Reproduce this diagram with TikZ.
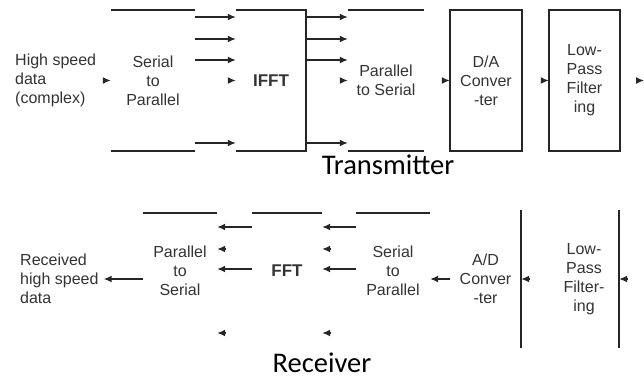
\documentclass[tikz,border=0pt]{standalone}
\usepackage{fontspec}
\setmainfont{Liberation Sans}
\newfontfamily\titlefont{Carlito}
\usetikzlibrary{arrows.meta}

\begin{document}
\begin{tikzpicture}[
  x=1pt, y=-1pt,
  blk/.style={align=center, inner sep=0pt, text=black!80,
  font=\fontsize{16}{19}\selectfont},
  txbox/.style={blk, minimum height=141pt},
  rxbox/.style={blk, minimum height=116pt},
  endbox/.style={blk, minimum height=138pt},
  bold/.style={font=\bfseries\fontsize{17}{19}\selectfont},
  edge/.style={line width=1.8pt, draw=black!85},
  arrow/.style={-{Latex[length=8pt,width=7pt]}, line width=1.4pt, draw=black!85},
  title/.style={font=\titlefont\fontsize{28.5}{30}\selectfont}
]
\useasboundingbox (0,0) rectangle (644,379);

% transmitter
\node[blk, align=left, anchor=west] (datain) at (15,80) {High speed\\data\\(complex)};
\node[txbox, minimum width=84pt] (sp1) at (153,80.5) {Serial\\to\\Parallel};
\node[txbox, bold, minimum width=70pt] (ifft) at (271,80.5) {IFFT};
\node[txbox, minimum width=76pt] (ps1) at (386,80.5) {Parallel\\to Serial};
\node[txbox, minimum width=72pt] (da) at (486,80.5) {D/A\\Conver\\-ter};
\node[txbox, minimum width=71pt] (lpf1) at (584.5,80.5) {Low-\\Pass\\Filter\\ing};
\coordinate (txout) at (644,80.5);
\node[title] (txlabel) at (388,165) {Transmitter};

\draw[edge] (sp1.north west) -- (sp1.north east) (sp1.south west) -- (sp1.south east);
\draw[edge] (ifft.north west) -| (ifft.south east) -- (ifft.south west);
\draw[edge] (ps1.north west) -- (ps1.north east) (ps1.south west) -- (ps1.south east);
\draw[edge] (da.north west) rectangle (da.south east);
\draw[edge] (lpf1.north west) rectangle (lpf1.south east);

\draw[arrow] ([xshift=-8pt]sp1.west) -- (sp1.west);
\foreach \y in {17,39,60,143} {
  \draw[arrow] (sp1.east |- 0,\y) -- (ifft.west |- 0,\y);
  \draw[arrow] (ifft.east |- 0,\y) -- (ps1.west |- 0,\y);
}
\draw[arrow] ([xshift=-8pt]ifft.west) -- (ifft.west);
\draw[arrow] ([xshift=-8pt]ps1.west) -- (ps1.west);
\draw[arrow] ([xshift=-8pt]da.west) -- (da.west);
\draw[arrow] ([xshift=-8pt]lpf1.west) -- (lpf1.west);
\draw[arrow] ([xshift=-8pt]txout) -- (txout);

% receiver
\node[blk, align=left, anchor=west] (dataout) at (20,279) {Received\\high speed\\data};
\node[rxbox, minimum width=74pt] (ps2) at (180,271) {Parallel\\to\\Serial};
\node[rxbox, bold, minimum width=70pt] (fft) at (287,271) {FFT};
\node[rxbox, minimum width=74pt] (sp2) at (393,271) {Serial\\to\\Parallel};
\node[endbox, minimum width=71pt] (ad) at (485.5,279) {A/D\\Conver\\-ter};
\node[endbox, minimum width=70pt] (lpf2) at (584,279) {Low-\\Pass\\Filter-\\ing};
\node[title] (rxlabel) at (322,363) {Receiver};

\draw[edge] (ps2.north west) -- (ps2.north east);
\draw[edge] (fft.north west) -- (fft.north east);
\draw[edge] (sp2.north west) -- (sp2.north east);
\draw[edge] (ad.north east) -- (ad.south east);
\draw[edge] (lpf2.north east) -- (lpf2.south east);

\draw[arrow] ([xshift=8pt]lpf2.east) -- (lpf2.east);
\draw[arrow] ([xshift=8pt]ad.east) -- (ad.east);
\draw[arrow] (ad.west) -- (sp2.east |- ad.west);
\foreach \y in {227,269} {
  \draw[arrow] (sp2.west |- 0,\y) -- (fft.east |- 0,\y);
  \draw[arrow] (fft.west |- 0,\y) -- (ps2.east |- 0,\y);
}
\foreach \y in {249,333} {
  \draw[arrow] ([xshift=8pt]fft.east |- 0,\y) -- (fft.east |- 0,\y);
  \draw[arrow] ([xshift=8pt]ps2.east |- 0,\y) -- (ps2.east |- 0,\y);
}
\draw[arrow] (ps2.west |- dataout.east) -- ([xshift=5pt]dataout.east);
\end{tikzpicture}
\end{document}
